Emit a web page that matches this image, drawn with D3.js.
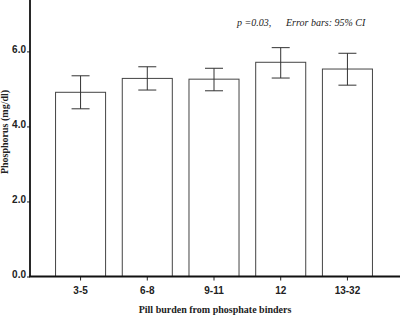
<!DOCTYPE html>
<html>
<head>
<meta charset="utf-8">
<script src="https://cdn.jsdelivr.net/npm/d3@7"></script>
<style>
  body { margin: 0; background: #fff; }
  svg { display: block; }
</style>
</head>
<body>
<div id="chart"></div>
<script>
const categories = ["3-5", "6-8", "9-11", "12", "13-32"];
const means = [4.91, 5.28, 5.26, 5.71, 5.53];
const ciLow = [4.47, 4.97, 4.95, 5.29, 5.10];
const ciHigh = [5.35, 5.59, 5.55, 6.10, 5.95];
const yTicks = [0, 2, 4, 6];

const width = 400, height = 317;
const margin = { top: 0, right: 2, bottom: 40.5, left: 30 };

const svg = d3.select("#chart")
    .append("svg")
    .attr("width", width)
    .attr("height", height);

const x = d3.scaleBand()
    .domain(categories)
    .range([margin.left, width - margin.right])
    .paddingInner(0.25)
    .paddingOuter(0.383);

const y = d3.scaleLinear()
    .domain([0, 7.37])
    .range([height - margin.bottom, margin.top]);

// bars
svg.selectAll("rect.bar")
    .data(categories)
    .enter()
    .append("rect")
    .attr("class", "bar")
    .attr("x", d => x(d))
    .attr("y", (d, i) => y(means[i]))
    .attr("width", x.bandwidth())
    .attr("height", (d, i) => y(0) - y(means[i]))
    .attr("fill", "white")
    .attr("stroke", "#444")
    .attr("stroke-width", 1);

// error bars
const capW = 18;
const err = svg.append("g").attr("stroke", "#333").attr("stroke-width", 1);
categories.forEach((c, i) => {
    const cx = x(c) + x.bandwidth() / 2;
    err.append("line")
        .attr("x1", cx).attr("x2", cx)
        .attr("y1", y(ciLow[i])).attr("y2", y(ciHigh[i]));
    err.append("line")
        .attr("x1", cx - capW / 2).attr("x2", cx + capW / 2)
        .attr("y1", y(ciHigh[i])).attr("y2", y(ciHigh[i]));
    err.append("line")
        .attr("x1", cx - capW / 2).attr("x2", cx + capW / 2)
        .attr("y1", y(ciLow[i])).attr("y2", y(ciLow[i]));
});

// y axis
const yAxis = svg.append("g")
    .attr("transform", `translate(${margin.left},0)`)
    .call(d3.axisLeft(y).tickValues(yTicks).tickFormat(d3.format(".1f")).tickSize(3).tickPadding(1));
yAxis.select(".domain").remove();
yAxis.append("line")
    .attr("x1", 0).attr("x2", 0)
    .attr("y1", 0).attr("y2", y(0))
    .attr("stroke", "#111").attr("stroke-width", 1.8);
yAxis.selectAll(".tick text")
    .attr("font-family", "Liberation Sans, Arial, sans-serif")
    .attr("font-weight", "bold")
    .attr("font-size", 10)
    .attr("fill", "#222")
    .attr("dy", "0.1em");
yAxis.selectAll(".tick line").attr("stroke", "#222");

// x axis
const xAxis = svg.append("g")
    .attr("transform", `translate(0,${y(0)})`)
    .call(d3.axisBottom(x).tickSize(4).tickPadding(6));
xAxis.select(".domain").remove();
xAxis.append("line")
    .attr("x1", margin.left - 1).attr("x2", width)
    .attr("y1", 0).attr("y2", 0)
    .attr("stroke", "#111").attr("stroke-width", 1.8);
xAxis.selectAll(".tick text")
    .attr("font-family", "Liberation Sans, Arial, sans-serif")
    .attr("font-weight", "bold")
    .attr("font-size", 10)
    .attr("fill", "#222");
xAxis.selectAll(".tick line").attr("stroke", "#222");

// axis titles
svg.append("text")
    .attr("transform", `translate(8,132) rotate(-90)`)
    .attr("text-anchor", "middle")
    .attr("font-family", "Liberation Serif, Times New Roman, serif")
    .attr("font-weight", "bold")
    .attr("font-size", 10)
    .attr("fill", "#222")
    .text("Phosphorus (mg/dl)");

svg.append("text")
    .attr("x", 215)
    .attr("y", 313)
    .attr("text-anchor", "middle")
    .attr("font-family", "Liberation Serif, Times New Roman, serif")
    .attr("font-weight", "bold")
    .attr("font-size", 10)
    .attr("fill", "#222")
    .text("Pill burden from phosphate binders");

// annotation
const note = svg.append("text")
    .attr("x", 237)
    .attr("y", 26)
    .attr("font-family", "Liberation Serif, Times New Roman, serif")
    .attr("font-style", "italic")
    .attr("font-size", 10)
    .attr("fill", "#222");
note.append("tspan").text("p =0.03,");
note.append("tspan").attr("x", 286).text("Error bars: 95% CI");
</script>
</body>
</html>
